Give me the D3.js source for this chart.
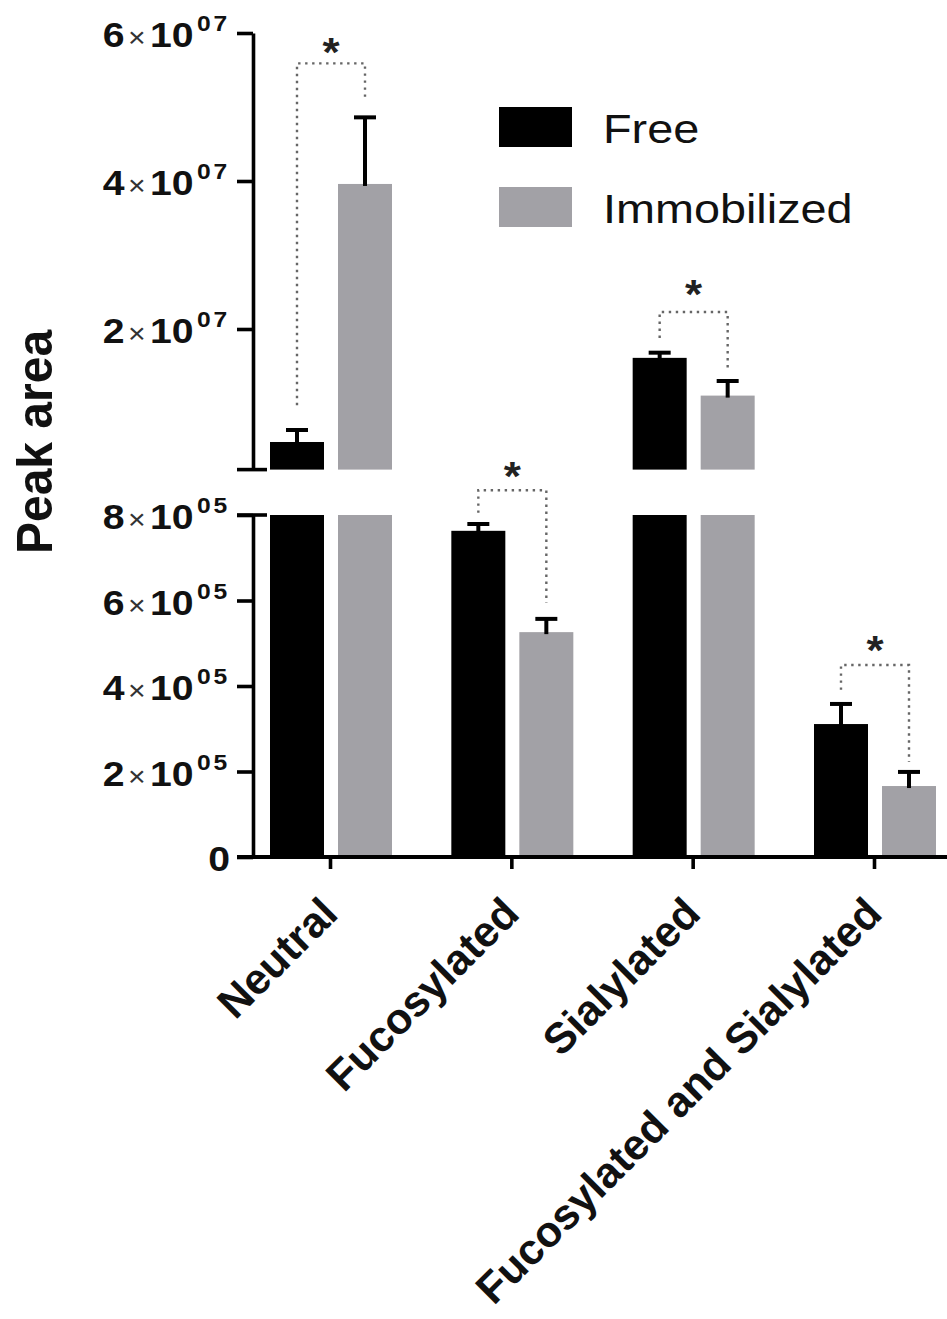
<!DOCTYPE html>
<html>
<head>
<meta charset="utf-8">
<script src="https://cdn.jsdelivr.net/npm/d3@7/dist/d3.min.js"></script>
<style>
  html, body { margin: 0; padding: 0; background: #fff; }
  svg { display: block; }
  text { font-family: "Liberation Sans", Arial, Helvetica, sans-serif; }
</style>
</head>
<body>
<svg id="chart" width="947" height="1319"></svg>
<script>
// ---------------- data ----------------
const categories = ["Neutral", "Fucosylated", "Sialylated", "Fucosylated and Sialylated"];
const seriesNames = ["Free", "Immobilized"];
const freeMean = [4.73e6, 7.63e5, 1.61e7, 3.11e5];
const freeSD   = [1.62e6, 1.6e4, 0.7e6, 4.7e4];
const immobMean = [3.96e7, 5.26e5, 1.10e7, 1.66e5];
const immobSD   = [0.90e7, 3.1e4, 1.97e6, 3.3e4];
const upperTicks = [2e7, 4e7, 6e7];
const lowerTicks = [0, 2e5, 4e5, 6e5, 8e5];
const upperDomain = [1e6, 6e7];
const lowerDomain = [0, 8e5];
// significance brackets: category, axis segment, left leg start, bracket top, right leg end, star
const sigCats   = ["Neutral", "Fucosylated", "Sialylated", "Fucosylated and Sialylated"];
const sigSeg    = ["upper", "lower", "upper", "lower"];
const sigLeft   = [9.7e6, 8.05e5, 1.88e7, 3.91e5];
const sigTop    = [5.59e7, 8.58e5, 2.23e7, 4.49e5];
const sigRight  = [5.09e7, 5.94e5, 1.42e7, 2.22e5];
const sigStar   = [5.85e7, 9.10e5, 2.58e7, 5.03e5];

// ---------------- layout ----------------
const svg = d3.select("#chart");
const axisX = 253;
const colors = { Free: "#000000", Immobilized: "#a2a1a6" };

const yUp = d3.scaleLinear().domain(upperDomain).range([469.6, 33]);
const yLo = d3.scaleLinear().domain(lowerDomain).range([857, 515]);
const segScale = { upper: yUp, lower: yLo };

const x = d3.scalePoint().domain(categories).range([330, 874]);
const xs = d3.scaleBand().domain(seriesNames).range([-60, 62]).paddingInner(0.206);

const rows = [];
categories.forEach((c, i) => {
  rows.push({ cat: c, s: "Free", v: freeMean[i], sd: freeSD[i] });
  rows.push({ cat: c, s: "Immobilized", v: immobMean[i], sd: immobSD[i] });
});

// ---------------- bars ----------------
const gBars = svg.append("g");
gBars.selectAll("rect.lo").data(rows).join("rect")
  .attr("class", "lo")
  .attr("x", d => x(d.cat) + xs(d.s))
  .attr("width", xs.bandwidth())
  .attr("y", d => yLo(Math.min(d.v, lowerDomain[1])))
  .attr("height", d => yLo(0) - yLo(Math.min(d.v, lowerDomain[1])))
  .attr("fill", d => colors[d.s]);
gBars.selectAll("rect.up").data(rows.filter(d => d.v > upperDomain[0])).join("rect")
  .attr("class", "up")
  .attr("x", d => x(d.cat) + xs(d.s))
  .attr("width", xs.bandwidth())
  .attr("y", d => yUp(d.v))
  .attr("height", d => yUp(upperDomain[0]) - yUp(d.v))
  .attr("fill", d => colors[d.s]);

// ---------------- error bars ----------------
const gErr = svg.append("g").attr("stroke", "#000").attr("stroke-width", 4);
rows.forEach(d => {
  const sc = d.v > upperDomain[0] ? yUp : yLo;
  const cx = x(d.cat) + xs(d.s) + xs.bandwidth() / 2;
  gErr.append("line").attr("x1", cx).attr("x2", cx)
    .attr("y1", sc(d.v) + 2).attr("y2", sc(d.v + d.sd));
  gErr.append("line").attr("x1", cx - 11).attr("x2", cx + 11)
    .attr("y1", sc(d.v + d.sd)).attr("y2", sc(d.v + d.sd));
});

// ---------------- axes ----------------
const gUp = svg.append("g").attr("transform", `translate(${axisX},0)`)
  .call(d3.axisLeft(yUp).tickValues(upperTicks).tickSize(16).tickSizeOuter(0).tickFormat(""));
const gLo = svg.append("g").attr("transform", `translate(${axisX},0)`)
  .call(d3.axisLeft(yLo).tickValues(lowerTicks).tickSize(16).tickSizeOuter(0).tickFormat(""));
[gUp, gLo].forEach(g => {
  g.selectAll("path.domain").attr("stroke", "#000").attr("stroke-width", 3.6);
  g.selectAll(".tick line").attr("stroke", "#000").attr("stroke-width", 3.6);
});
// break caps
[[yUp, upperDomain[0]], [yLo, lowerDomain[1]]].forEach(([sc, v]) => {
  svg.append("line").attr("x1", axisX - 16).attr("x2", axisX + 14)
    .attr("y1", sc(v)).attr("y2", sc(v))
    .attr("stroke", "#000").attr("stroke-width", 3.6);
});

// tick labels with scientific notation
const TSX = 1.12;
function addTickLabel(sc, v) {
  const t = svg.append("text")
    .attr("text-anchor", "end")
    .attr("transform", `translate(${axisX - 23},${sc(v) + 14}) scale(${TSX},1)`)
    .attr("fill", "#111");
  if (v === 0) {
    t.append("tspan").attr("font-size", 35).attr("font-weight", "bold").text("0");
    return;
  }
  const exp = Math.floor(Math.log10(v));
  const mant = Math.round(v / Math.pow(10, exp));
  t.append("tspan").attr("font-size", 35).attr("font-weight", "bold").text(mant);
  t.append("tspan").attr("font-size", 27).attr("fill", "#333").attr("dx", 3).text("\u00d7");
  t.append("tspan").attr("font-size", 35).attr("font-weight", "bold").attr("dx", 4).text("10");
  t.append("tspan").attr("font-size", 22).attr("font-weight", "bold").attr("dy", -16).attr("dx", 3)
    .attr("letter-spacing", 2.5)
    .text(String(exp).padStart(2, "0"));
}
upperTicks.forEach(v => addTickLabel(yUp, v));
lowerTicks.forEach(v => addTickLabel(yLo, v));

// x axis
const gX = svg.append("g").attr("transform", `translate(0,${yLo(0)})`)
  .call(d3.axisBottom(x).tickSize(12).tickSizeOuter(0).tickFormat(""));
gX.select("path.domain").attr("d", `M${axisX - 16},0H947`).attr("stroke", "#000").attr("stroke-width", 4);
gX.selectAll(".tick line").attr("stroke", "#000").attr("stroke-width", 3.6);

svg.append("g").selectAll("text").data(categories).join("text")
  .attr("text-anchor", "end")
  .attr("font-size", 43).attr("font-weight", "bold").attr("fill", "#111")
  .attr("transform", d => `translate(${x(d) + 10},916) rotate(-45)`)
  .text(d => d);

// y title
svg.append("text")
  .attr("text-anchor", "middle")
  .attr("font-size", 48).attr("font-weight", "bold").attr("fill", "#111")
  .attr("transform", `translate(52,442) scale(1.05,1) rotate(-90)`)
  .text("Peak area");

// ---------------- significance brackets ----------------
const gSig = svg.append("g");
sigCats.forEach((c, i) => {
  const sc = segScale[sigSeg[i]];
  const xl = x(c) + xs("Free") + xs.bandwidth() / 2;
  const xr = x(c) + xs("Immobilized") + xs.bandwidth() / 2;
  gSig.append("path")
    .attr("d", `M${xl},${sc(sigLeft[i])}V${sc(sigTop[i])}H${xr}V${sc(sigRight[i])}`)
    .attr("fill", "none").attr("stroke", "#666").attr("stroke-width", 2.4)
    .attr("stroke-dasharray", "2.4,4.6");
  gSig.append("text")
    .attr("text-anchor", "middle")
    .attr("font-size", 40).attr("font-weight", "bold").attr("fill", "#222")
    .attr("transform", `translate(${(xl + xr) / 2},${sc(sigStar[i]) + 22}) scale(1.1,1)`)
    .text("*");
});

// ---------------- legend ----------------
const legend = svg.append("g");
seriesNames.forEach((s, i) => {
  legend.append("rect").attr("x", 499).attr("y", 107 + i * 80)
    .attr("width", 73).attr("height", 40).attr("fill", colors[s]);
  legend.append("text")
    .attr("transform", `translate(603,${143 + i * 80}) scale(1.17,1)`)
    .attr("font-size", 40).attr("fill", "#111")
    .text(s);
});
</script>
</body>
</html>
